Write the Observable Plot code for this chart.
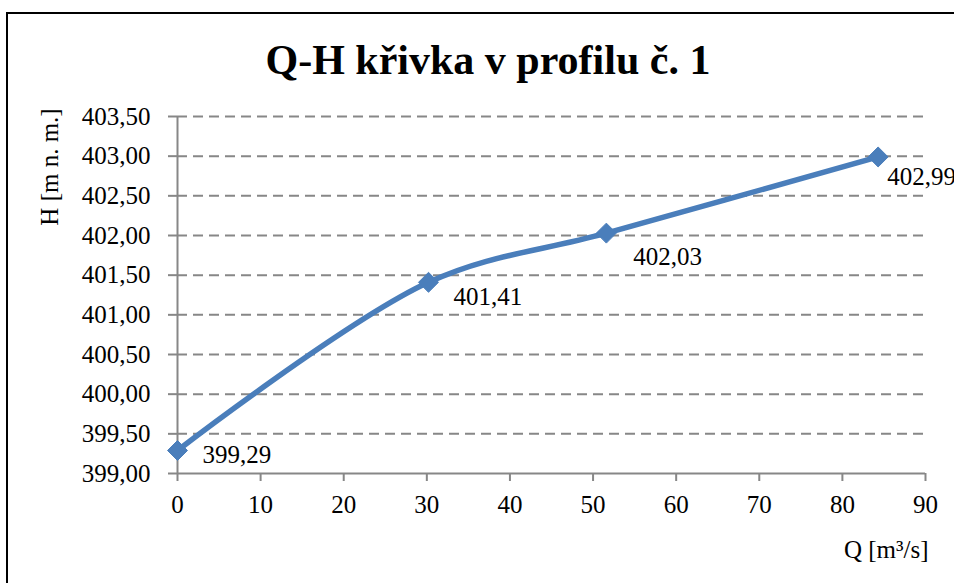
<!DOCTYPE html>
<html>
<head>
<meta charset="utf-8">
<script src="https://cdn.jsdelivr.net/npm/d3@7"></script>
<script src="https://cdn.jsdelivr.net/npm/@observablehq/plot@0.6"></script>
<style>
  html, body { margin: 0; padding: 0; background: #fff; overflow: hidden; width: 954px; height: 583px; }
  #chart { position: absolute; left: 0; top: 0; width: 954px; height: 583px; overflow: hidden; }
  #chart svg, #chart svg text { font-family: "Liberation Serif", "DejaVu Serif", serif !important; }
</style>
</head>
<body>
<div id="chart"></div>
<script>
const title = "Q-H křivka v profilu č. 1";
const xLabel = "Q [m³/s]";
const yLabel = "H [m n. m.]";
const discharge = [0, 30.2, 51.6, 84.3];
const stage = [399.29, 401.41, 402.03, 402.99];
const xTicks = [0, 10, 20, 30, 40, 50, 60, 70, 80, 90];
const yTicks = [399, 399.5, 400, 400.5, 401, 401.5, 402, 402.5, 403, 403.5];

const fmt = v => v.toFixed(2).replace(".", ",");
const data = discharge.map((q, i) => ({q, h: stage[i], label: fmt(stage[i])}));
const blue = "#4a7ebb";
const gray = "#878787";
const font = "Liberation Serif";

const labelOffsets = [[25, 5], [25, 15], [27, 24], [9, 20]];
const labelMarks = data.map((d, i) => Plot.text([d], {
  x: "q", y: "h", text: "label", dx: labelOffsets[i][0], dy: labelOffsets[i][1],
  textAnchor: "start", lineAnchor: "middle", fontSize: 25, fontFamily: font, fill: "#000"
}));

const chart = Plot.plot({
  width: 954,
  height: 583,
  marginLeft: 177,
  marginRight: 29,
  marginTop: 116,
  marginBottom: 110,
  style: {fontFamily: font, background: "#fff", overflow: "hidden"},
  x: {domain: [0, 90], ticks: xTicks},
  y: {domain: [399, 403.5], ticks: yTicks},
  marks: [
    Plot.ruleY(yTicks.filter(v => v > 399), {stroke: gray, strokeWidth: 2, strokeDasharray: "10,6"}),
    Plot.ruleX([0], {stroke: gray, strokeWidth: 2}),
    Plot.ruleY([399], {stroke: gray, strokeWidth: 2}),
    Plot.axisY({ticks: yTicks, tickFormat: fmt, tickSize: 9, tickPadding: 18, fontSize: 25, fontFamily: font, stroke: gray, strokeWidth: 2, fill: "#000", label: null}),
    Plot.axisX({ticks: xTicks, tickFormat: d => String(d), tickSize: 8, tickPadding: 14, fontSize: 25, fontFamily: font, stroke: gray, strokeWidth: 2, fill: "#000", label: null}),
    Plot.line(data, {x: "q", y: "h", stroke: blue, strokeWidth: 5.5, curve: "catmull-rom"}),
    Plot.dot(data, {x: "q", y: "h", symbol: "diamond2", r: 9, fill: blue, stroke: blue, strokeWidth: 1}),
    ...labelMarks,
    Plot.text([title], {frameAnchor: "top-left", dx: 88, dy: -56, textAnchor: "start", lineAnchor: "middle", fontSize: 42, fontWeight: "bold", fontFamily: font, fill: "#000"}),
    Plot.text([yLabel], {frameAnchor: "left", rotate: -90, dx: -128, dy: -128, textAnchor: "middle", lineAnchor: "middle", fontSize: 25, fontFamily: font, fill: "#000"}),
    Plot.text([xLabel], {frameAnchor: "bottom-right", dx: 3, dy: 76, textAnchor: "end", lineAnchor: "middle", fontSize: 25, fontFamily: font, fill: "#000"})
  ]
});
// outer chart-area border (left and top edges visible; right/bottom lie outside the picture)
d3.select(chart).append("path")
  .attr("d", "M7,600V13H1000")
  .attr("fill", "none").attr("stroke", "#000").attr("stroke-width", 2);
document.getElementById("chart").appendChild(chart);
</script>
</body>
</html>
